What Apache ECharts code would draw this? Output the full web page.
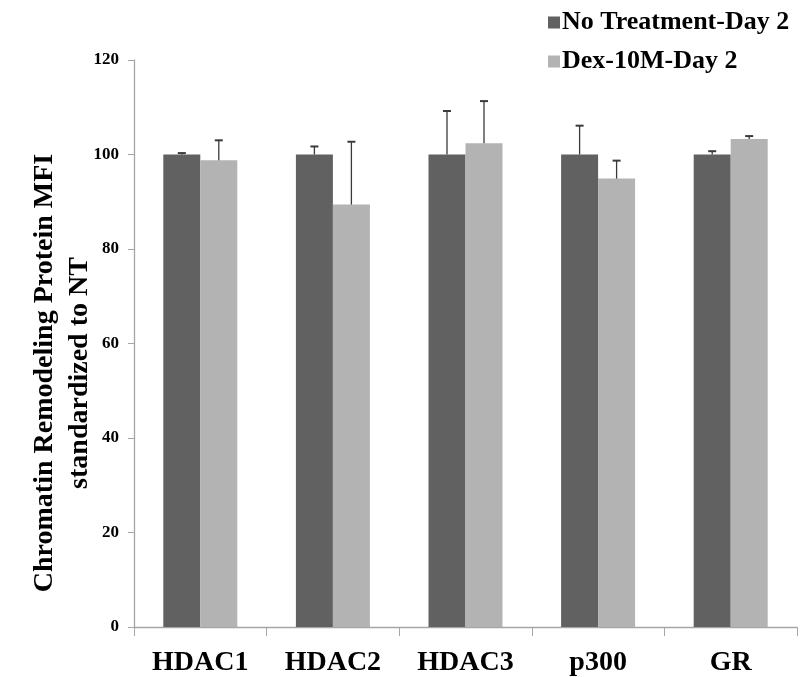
<!DOCTYPE html>
<html><head><meta charset="utf-8">
<script src="https://cdn.jsdelivr.net/npm/echarts@6/dist/echarts.min.js"></script>
<style>html,body{margin:0;padding:0;background:#fff}#c{width:810px;height:677px}</style>
</head><body><div id="c"></div>
<script>
const categories = ['HDAC1','HDAC2','HDAC3','p300','GR'];
const seriesNames = ['No Treatment-Day 2','Dex-10M-Day 2'];
const noTreatment = [100, 100, 100, 100, 100];
const noTreatmentErr = [0.3, 1.7, 9.2, 6.1, 0.7];
const dex = [98.8, 89.4, 102.4, 94.9, 103.3];
const dexErr = [4.2, 13.3, 8.9, 3.8, 0.6];
const yTicks = {min: 0, max: 120, interval: 20};
const yTitle = 'Chromatin Remodeling Protein MFI\nstandardized to NT';

const FONT = '"Liberation Serif", "Times New Roman", serif';
const BAR_W = 37;

function errSeries(vals, errs, offset) {
  return {
    type: 'custom',
    z: 5,
    data: vals.map((v, i) => [i, v, v + errs[i]]),
    renderItem: function (params, api) {
      const base = api.coord([api.value(0), api.value(1)]);
      const top = api.coord([api.value(0), api.value(2)]);
      const x = base[0] + offset;
      return {
        type: 'group',
        children: [
          {type: 'line', shape: {x1: x, y1: base[1], x2: x, y2: top[1]}, style: {stroke: '#3a3a3a', lineWidth: 1.3}},
          {type: 'line', shape: {x1: x - 4, y1: top[1], x2: x + 4, y2: top[1]}, style: {stroke: '#3a3a3a', lineWidth: 2}}
        ]
      };
    },
    silent: true
  };
}

const chart = echarts.init(document.getElementById('c'), null, {renderer: 'canvas'});
chart.setOption({
  animation: false,
  backgroundColor: '#fff',
  grid: {left: 134, right: 13, top: 60, bottom: 50, containLabel: false, outerBoundsMode: 'none'},
  graphic: [{
    type: 'text',
    x: 62, y: 373,
    rotation: Math.PI / 2,
    style: {
      text: yTitle,
      fontFamily: FONT, fontWeight: 'bold', fontSize: 28, lineHeight: 35,
      fill: '#000', align: 'center', verticalAlign: 'middle'
    }
  }],
  legend: {
    orient: 'vertical',
    left: 543,
    top: 4,
    itemWidth: 12,
    itemHeight: 12,
    itemGap: 12,
    icon: 'rect',
    data: seriesNames,
    textStyle: {fontFamily: FONT, fontWeight: 'bold', fontSize: 26, lineHeight: 27, color: '#000', padding: [0, 0, 0, -3]}
  },
  xAxis: {
    type: 'category',
    data: categories,
    axisLine: {lineStyle: {color: '#a6a6a6', width: 1.3}},
    axisTick: {show: true, length: 9, alignWithLabel: false, lineStyle: {color: '#a6a6a6'}},
    axisLabel: {fontFamily: FONT, fontWeight: 'bold', fontSize: 28, color: '#000', margin: 22}
  },
  yAxis: {
    type: 'value',
    min: yTicks.min, max: yTicks.max, interval: yTicks.interval,
    axisLine: {show: true, lineStyle: {color: '#a6a6a6', width: 1.3}},
    axisTick: {show: true, length: 6, lineStyle: {color: '#a6a6a6'}},
    splitLine: {show: false},
    axisLabel: {fontFamily: FONT, fontWeight: 'bold', fontSize: 17, color: '#000', margin: 15}
  },
  series: [
    {name: seriesNames[0], type: 'bar', data: noTreatment, barWidth: BAR_W, barGap: '0%', itemStyle: {color: '#616161'}},
    {name: seriesNames[1], type: 'bar', data: dex, barWidth: BAR_W, barGap: '0%', itemStyle: {color: '#b3b3b3'}},
    errSeries(noTreatment, noTreatmentErr, -BAR_W / 2),
    errSeries(dex, dexErr, BAR_W / 2)
  ]
});
</script></body></html>
